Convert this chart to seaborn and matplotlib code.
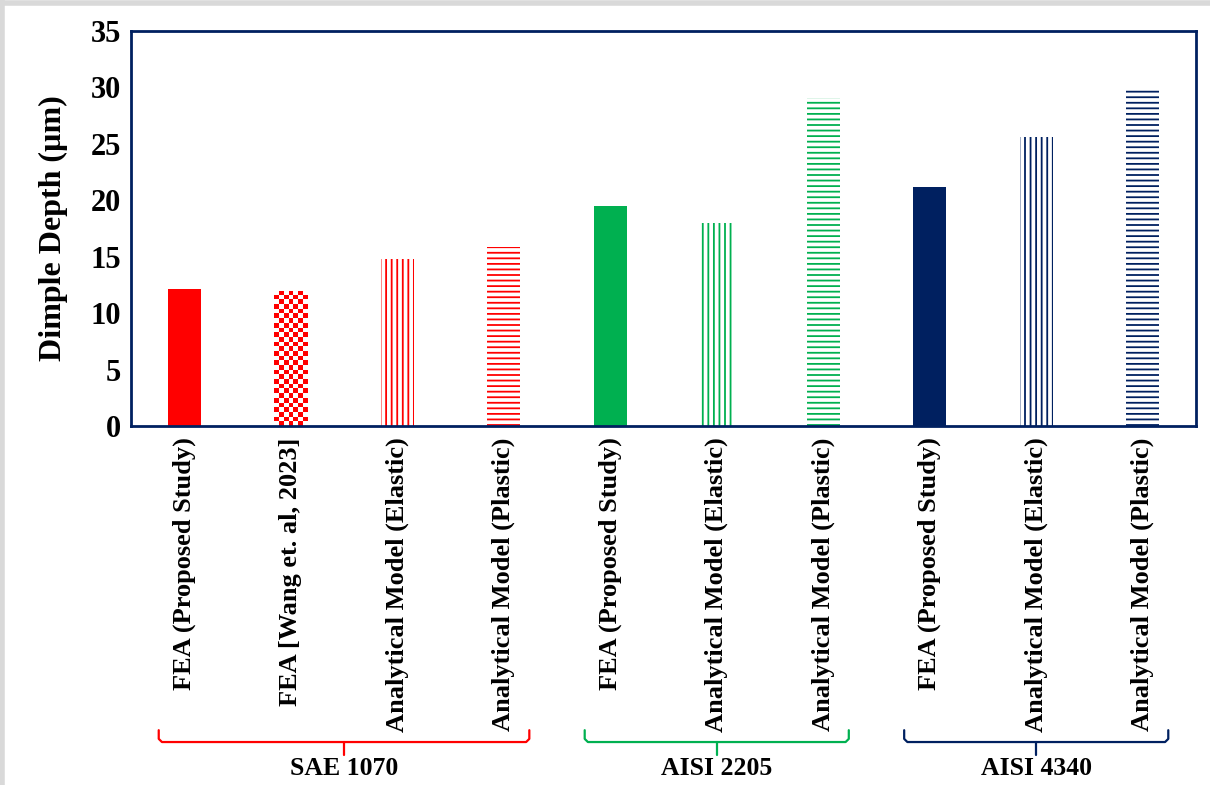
import matplotlib
matplotlib.use("Agg")
import matplotlib.pyplot as plt
import matplotlib.transforms as mtransforms
from matplotlib.colors import ListedColormap
from matplotlib.lines import Line2D
import numpy as np
import pandas as pd
import seaborn as sns

# Data
bar_labels = [
    "FEA (Proposed Study)", "FEA [Wang et. al, 2023]", "Analytical Model (Elastic)", "Analytical Model (Plastic)",
    "FEA (Proposed Study)", "Analytical Model (Elastic)", "Analytical Model (Plastic)",
    "FEA (Proposed Study)", "Analytical Model (Elastic)", "Analytical Model (Plastic)",
]
depth_um = [12.1, 12.0, 14.8, 15.9, 19.5, 18.0, 29.1, 21.2, 25.6, 29.9]
materials = ["SAE 1070", "SAE 1070", "SAE 1070", "SAE 1070",
             "AISI 2205", "AISI 2205", "AISI 2205",
             "AISI 4340", "AISI 4340", "AISI 4340"]
fills = ["solid", "checker", "vert", "horiz",
         "solid", "vert", "horiz",
         "solid", "vert", "horiz"]
group_names = ["SAE 1070", "AISI 2205", "AISI 4340"]
group_colors = {"SAE 1070": "#FF0000", "AISI 2205": "#00B050", "AISI 4340": "#002060"}

df = pd.DataFrame({"bar": [f"b{i}" for i in range(len(depth_um))],
                   "depth": depth_um, "material": materials, "fill": fills})
bar_colors = [group_colors[m] for m in materials]

sns.set_theme(style="white")
plt.rcParams["font.family"] = ["Liberation Serif", "DejaVu Serif"]
plt.rcParams["font.weight"] = "bold"
plt.rcParams["hatch.linewidth"] = 1.3
for k in ["text.color", "axes.labelcolor", "xtick.color", "ytick.color"]:
    plt.rcParams[k] = "black"

navy = "#002060"
fig = plt.figure(figsize=(12.1, 7.85), dpi=100)
ax = fig.add_axes([0.1083, 0.4573, 0.8801, 0.5032])

sns.barplot(data=df, x="bar", y="depth", hue="bar", palette=bar_colors,
            width=0.31, legend=False, ax=ax, saturation=1)

ax.set_xlim(-0.5, len(depth_um) - 0.5)
ax.set_ylim(0, 35)
fig.canvas.draw()

# fill styles: solid, checkerboard, vertical and horizontal lines
for p, f, c in zip(ax.patches, fills, bar_colors):
    p.set_linewidth(0)
    if f == "vert":
        p.set_facecolor("white")
        p.set_edgecolor(c)
        p.set_hatch("|||")
    elif f == "horiz":
        p.set_facecolor("white")
        p.set_edgecolor(c)
        p.set_hatch("---")
    elif f == "checker":
        p.set_facecolor("white")
        x0, w, h = p.get_x(), p.get_width(), p.get_height()
        px = ax.transData.transform([(x0, 0), (x0 + w, h)])
        nx = 7
        ny = int(round(nx * (px[1, 1] - px[0, 1]) / (px[1, 0] - px[0, 0])))
        checker = (np.add.outer(np.arange(ny), np.arange(nx)) % 2).astype(float)
        im = ax.imshow(checker, extent=(x0, x0 + w, 0, h), aspect="auto",
                       cmap=ListedColormap(["white", c]), interpolation="nearest",
                       origin="lower", zorder=p.get_zorder() + 0.1)
        im.set_clip_path(p)

ax.set_xlim(-0.5, len(depth_um) - 0.5)
ax.set_ylim(0, 35)
ax.set_yticks(range(0, 36, 5))
ax.tick_params(axis="y", length=0, pad=7, labelsize=22)
ax.tick_params(axis="x", length=0, pad=8, labelsize=19)
ax.set_xticks(range(len(bar_labels)))
ax.set_xticklabels(bar_labels, rotation=90, fontweight="bold")
for t in ax.get_yticklabels():
    t.set_fontweight("bold")
ax.set_xlabel("")
ax.set_ylabel("Dimple Depth (µm)", fontsize=23, fontweight="bold", labelpad=16)

for s in ax.spines.values():
    s.set_color(navy)
    s.set_linewidth(2)

# Group brackets under the tick labels
trans = mtransforms.blended_transform_factory(ax.transData, ax.transAxes)
y_line, y_end, y_tip, y_text = -0.800, -0.770, -0.833, -0.866
for g in group_names:
    idx = [i for i, m in enumerate(materials) if m == g]
    left, right = idx[0] - 0.24, idx[-1] + 0.24
    mid = (left + right) / 2
    col = group_colors[g]
    ax.plot([left, left, left + 0.03, right - 0.03, right, right],
            [y_end, y_line + 0.008, y_line, y_line, y_line + 0.008, y_end],
            transform=trans, color=col, lw=1.6, clip_on=False, solid_capstyle="round")
    ax.plot([mid, mid], [y_line, y_tip], transform=trans, color=col, lw=1.6, clip_on=False)
    ax.text(mid, y_text, g, transform=trans, ha="center", va="center",
            fontsize=18.5, fontweight="bold", color="black")

# light grey screenshot border
fig.add_artist(Line2D([0, 1], [0.996, 0.996], transform=fig.transFigure, color="#d9d9d9", lw=4))
fig.add_artist(Line2D([0.002, 0.002], [0, 1], transform=fig.transFigure, color="#d9d9d9", lw=4))

fig.savefig("out.png", dpi=100)
